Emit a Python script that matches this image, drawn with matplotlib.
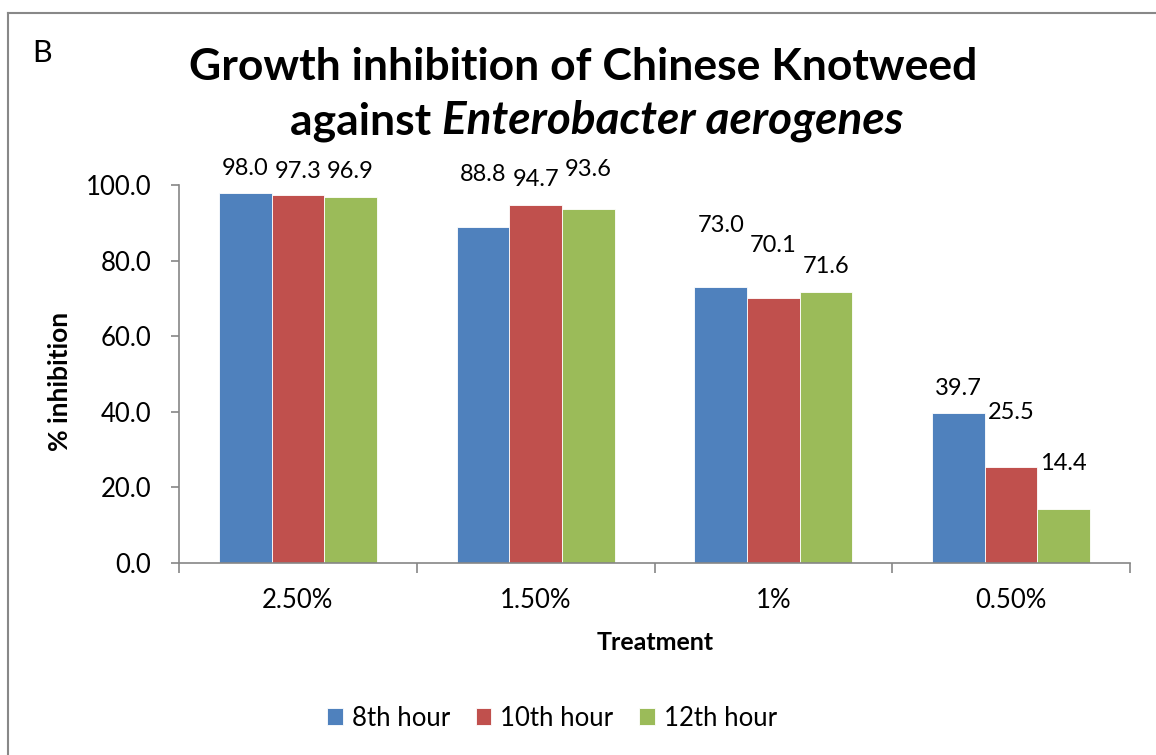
import numpy as np
import matplotlib.pyplot as plt
from matplotlib.lines import Line2D

treatments = ['2.50%', '1.50%', '1%', '0.50%']
hours = ['8th hour', '10th hour', '12th hour']
hour8 = [98.0, 88.8, 73.0, 39.7]
hour10 = [97.3, 94.7, 70.1, 25.5]
hour12 = [96.9, 93.6, 71.6, 14.4]
# how far each value label sits above its bar (points), staggered like the original
lift8 = [13, 33.5, 39.5, 13]
lift10 = [12.5, 14, 33, 34.5]
lift12 = [13.5, 24, 14, 28]
colors = ['#4F81BD', '#C0504D', '#9BBB59']
gray = '#868686'

plt.rcParams['font.family'] = ['Lato', 'DejaVu Sans']

W, H = 1156, 755
fig = plt.figure(figsize=(W/100, H/100), dpi=100)
ax = fig.add_axes([179/W, 1-563/H, (1130-179)/W, (563-185)/H])

x = np.arange(len(treatments))
w = 0.2216
for i, (vals, lifts) in enumerate(zip([hour8, hour10, hour12], [lift8, lift10, lift12])):
    bars = ax.bar(x + (i-1)*w, vals, w, color=colors[i], edgecolor='white',
                  linewidth=0.6, label=hours[i])
    for b, v, l in zip(bars, vals, lifts):
        ax.annotate(f'{v:.1f}', (b.get_x() + b.get_width()/2, v), xytext=(0, l),
                    textcoords='offset points', ha='center', va='baseline', fontsize=17)

ax.set_xlim(-0.5, len(treatments) - 0.5)
ax.set_ylim(0, 100)
ax.set_yticks(np.arange(0, 101, 20))
ax.set_yticklabels([f'{t:.1f}' for t in np.arange(0, 101, 20)])
ax.set_xticks(x)
ax.set_xticklabels(treatments)
ax.set_xticks(np.arange(-0.5, len(treatments)), minor=True)
ax.tick_params(axis='x', which='major', length=0, pad=18, labelsize=18.5)
ax.tick_params(axis='x', which='minor', length=7, width=1.2, color=gray, direction='out')
ax.tick_params(axis='y', length=6, width=1.2, color=gray, pad=14, labelsize=18.5)
for s in ['top', 'right']:
    ax.spines[s].set_visible(False)
for s in ['left', 'bottom']:
    ax.spines[s].set_color(gray)
    ax.spines[s].set_linewidth(1.2)

fig.text(60/W, 1-381/H, '% inhibition', rotation=90, ha='center', va='center',
         fontsize=19, fontweight='bold')
fig.text(655/W, 1-643/H, 'Treatment', ha='center', va='center', fontsize=18, fontweight='bold')

# title: line 1 plain bold, line 2 partly bold italic
fig.text(583/W, 1-80/H, 'Growth inhibition of Chinese Knotweed', ha='center', va='baseline',
         fontsize=32, fontweight='bold')
r = fig.canvas.get_renderer()
t1 = fig.text(0, 1-134/H, 'against ', va='baseline', fontsize=32, fontweight='bold')
t2 = fig.text(0, 1-134/H, 'Enterobacter aerogenes', va='baseline', fontsize=33,
              fontweight='bold', style='italic')
w1 = t1.get_window_extent(r).width
w2 = t2.get_window_extent(r).width
x0 = 597 - (w1 + w2)/2
t1.set_x(x0/W)
t2.set_x((x0 + w1)/W)

fig.text(32/W, 1-62/H, 'B', ha='left', va='baseline', fontsize=22)

fig.legend(loc='center', bbox_to_anchor=(552/W, 1-718/H), ncol=3, frameon=False,
           fontsize=18.5, handlelength=0.62, handleheight=0.62, handletextpad=0.35,
           columnspacing=1.0)

fig.add_artist(Line2D([8/W, 8/W], [0, 1-13/H], transform=fig.transFigure, color='#888888', lw=1.5))
fig.add_artist(Line2D([8/W, 1], [1-13/H, 1-13/H], transform=fig.transFigure, color='#888888', lw=1.5))

fig.savefig('out.png', dpi=100)
